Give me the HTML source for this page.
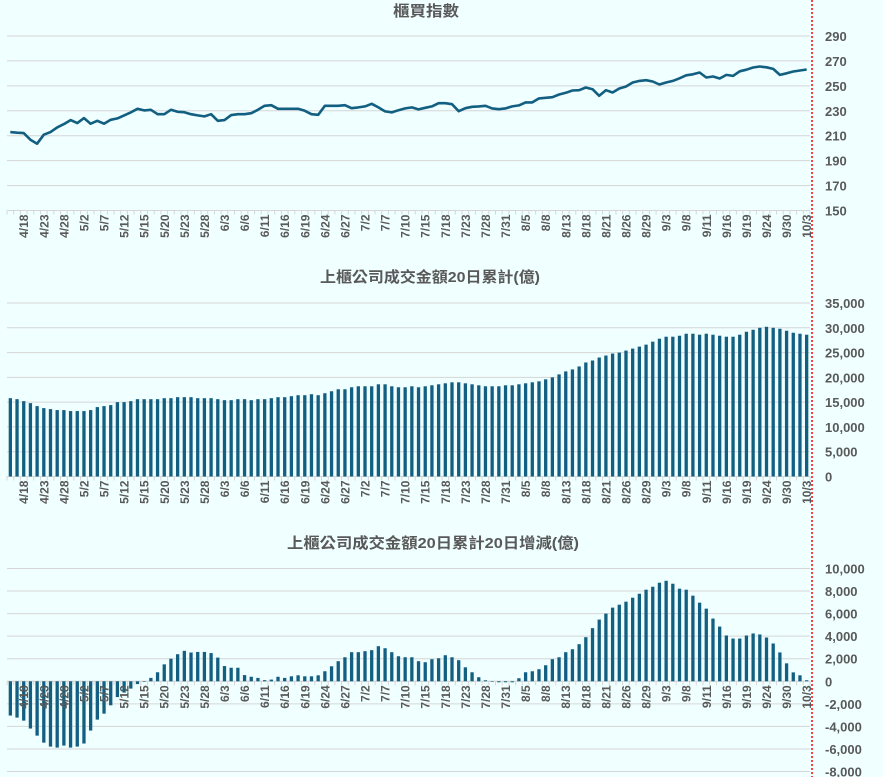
<!DOCTYPE html>
<html><head><meta charset="utf-8"><style>
html,body{margin:0;padding:0;background:#f0ffff;}
svg{display:block;font-family:"Liberation Sans","Noto Sans CJK TC",sans-serif;}
</style></head><body>
<svg id="chart" width="883" height="777" viewBox="0 0 883 777" xmlns="http://www.w3.org/2000/svg">
<rect x="0" y="0" width="883" height="777" fill="#f0ffff"/>
<g id="g1"></g>
<g id="g2"></g>
<g id="g3"></g>
<line x1="812" y1="0" x2="812" y2="777" stroke="#ff0000" stroke-width="1.5" stroke-dasharray="2,2"/>
</svg>
<script>
const dateLabels = ["4/18","4/23","4/28","5/2","5/7","5/12","5/15","5/20","5/23","5/28","6/3","6/6","6/11","6/16","6/19","6/24","6/27","7/2","7/7","7/10","7/15","7/18","7/23","7/28","7/31","8/5","8/8","8/13","8/18","8/21","8/26","8/29","9/3","9/8","9/11","9/16","9/19","9/24","9/30","10/3"];
const indexValues = [212.9,212.4,212.1,206.8,203.6,210.8,212.9,216.7,219.3,222.5,220.1,224.1,219.6,222,219.6,222.8,223.9,226.3,228.7,231.6,230.3,230.8,227.3,227.3,230.8,229.2,228.9,227.3,226.3,225.5,227.3,222,222.5,226.5,227.3,227.3,228.1,230.8,234,234.5,231.6,231.6,231.6,231.6,230,227.3,226.8,234,234,234,234.5,232.1,232.7,233.5,235.6,232.7,229.5,228.7,230.5,231.9,232.7,231.1,232.4,233.5,236.1,236.1,235.3,229.7,232.1,233.2,233.5,234,231.9,231.3,231.9,233.5,234.3,236.7,236.7,239.9,240.4,240.9,243.1,244.4,246.3,246.5,248.7,247.3,242,246.5,244.7,247.9,249.5,252.7,254,254.5,253.5,251.1,252.7,254,256.1,258.5,259.3,260.7,256.7,257.5,255.9,258.8,258,261.7,263,264.7,265.5,264.9,263.6,258.8,260.1,261.5,262.3,263.1];
const turnoverValues = [15800,15600,15200,14800,14200,13800,13600,13400,13400,13200,13200,13200,13400,14000,14200,14400,15000,15000,15200,15600,15600,15600,15600,15800,15800,16000,16000,16000,15800,15800,15800,15600,15400,15400,15600,15600,15400,15600,15600,15800,16000,16000,16200,16400,16400,16600,16400,16800,17200,17600,17600,18000,18200,18200,18200,18600,18600,18200,18000,18000,18200,18000,18200,18400,18600,18800,19000,19000,18800,18600,18400,18200,18200,18200,18400,18400,18600,18800,19000,19200,19600,20000,20600,21200,21600,22200,23000,23400,24000,24400,24800,25000,25400,25800,26200,26600,27200,27800,28200,28200,28400,28800,28800,28600,28800,28600,28400,28200,28200,28600,29200,29600,30000,30200,30000,29800,29400,29000,28800,28600];
const changeValues = [-3040,-3220,-3490,-4190,-4820,-5440,-5790,-5880,-5700,-5880,-5790,-5520,-4370,-3400,-2870,-2130,-1400,-1000,-650,-250,-50,300,800,1500,2000,2400,2700,2550,2600,2600,2500,2100,1350,1200,1200,550,400,300,100,150,400,300,440,530,440,440,530,890,1330,1780,2130,2580,2580,2670,2760,3110,2930,2580,2220,2130,2130,1780,1690,1960,2040,2310,2130,1870,1240,800,360,90,0,-90,-90,-90,270,800,890,1070,1420,1960,2130,2580,2840,3290,3910,4710,5470,6000,6530,6790,7060,7410,7760,8120,8380,8740,8910,8650,8210,8120,7590,6970,6440,5560,4850,4060,3790,3790,4060,4240,4150,3880,3350,2560,1590,790,530,90];
const indexTicks = [150,170,190,210,230,250,270,290];
const turnoverTicks = [0,5000,10000,15000,20000,25000,30000,35000];
const changeTicks = [-8000,-6000,-4000,-2000,0,2000,4000,6000,8000,10000];

const NS="http://www.w3.org/2000/svg";
const X0=7, X1=810, N=indexValues.length;
const step=(X1-X0)/N;
function xc(i){return X0+(i+0.5)*step;}
function mk(parent,tag,attrs){const e=document.createElementNS(NS,tag);for(const k in attrs)e.setAttribute(k,attrs[k]);parent.appendChild(e);return e;}
const COL="#135f82", GRID="#d6d6d6", TXT="#595959";
function fmt(v){return v.toLocaleString('en-US');}

function panel(g,cfg){
  const ys=v=>cfg.yBot-(v-cfg.min)/(cfg.max-cfg.min)*(cfg.yBot-cfg.yTop);
  const t=mk(g,'text',{x:cfg.tx,y:cfg.ty,'text-anchor':'middle','font-size':15,'font-weight':'bold',fill:TXT,textLength:cfg.tw,lengthAdjust:'spacingAndGlyphs'});
  
  
  t.textContent=cfg.title;
  cfg.ticks.forEach(v=>{
    const y=ys(v);
    const l=mk(g,'line',{x1:X0,x2:X1,y1:y,y2:y,stroke:GRID,'stroke-width':1});
    
    
    const tl=mk(g,'text',{x:825,y:y+5,'text-anchor':'start','font-size':13,'font-weight':'bold',fill:TXT});
    
    
    tl.textContent=fmt(v);
  });
  const ya=ys(cfg.axisVal);
  const ax=mk(g,'line',{x1:X0,x2:X1,y1:ya,y2:ya,stroke:GRID,'stroke-width':1});
  
  
  for(let i=0;i<=N;i++){
    const x=X0+i*step;
    const tk=mk(g,'line',{x1:x,x2:x,y1:ya,y2:ya+4,stroke:GRID,'stroke-width':1});
    
    
  }
  if(cfg.type==='line'){
    const pts=cfg.data.map((v,i)=>xc(i).toFixed(1)+','+ys(v).toFixed(1)).join(' ');
    const p=mk(g,'polyline',{points:pts,fill:'none',stroke:COL,'stroke-width':2.6,'stroke-linejoin':'round'});
    
    
  } else {
    const y0=ys(0);
    cfg.data.forEach((v,i)=>{
      const y=ys(v);
      const r=mk(g,'rect',{x:xc(i)-1.65,y:Math.min(y,y0),width:3.3,height:Math.max(0.5,Math.abs(y0-y)),fill:COL});
      
      
    });
  }
  dateLabels.forEach((d,k)=>{
    const i=2+k*3;
    const x=xc(i)+4.5, y=ya+4;
    const tl=mk(g,'text',{x:x,y:y,'text-anchor':'end','font-size':12,'font-weight':'bold',fill:TXT,transform:`rotate(-90 ${x} ${y})`});
    
    
    tl.textContent=d;
  });
}
panel(document.getElementById('g1'),{title:'櫃買指數',tx:426,ty:16,tw:66,ticks:indexTicks,min:150,max:290,yTop:36,yBot:210.5,axisVal:150,type:'line',data:indexValues});
panel(document.getElementById('g2'),{title:'上櫃公司成交金額20日累計(億)',tx:430,ty:282,tw:220,ticks:turnoverTicks,min:0,max:35000,yTop:303,yBot:476.5,axisVal:0,type:'bar',data:turnoverValues});
panel(document.getElementById('g3'),{title:'上櫃公司成交金額20日累計20日增減(億)',tx:433,ty:548,tw:292,ticks:changeTicks,min:-8000,max:10000,yTop:568.5,yBot:771.5,axisVal:0,type:'bar',data:changeValues});
</script>
</body></html>
